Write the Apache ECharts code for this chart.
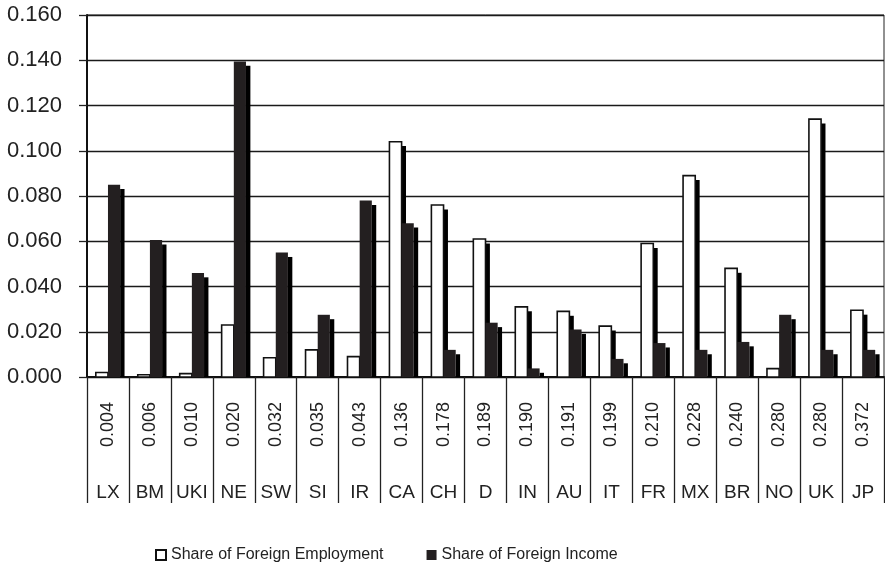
<!DOCTYPE html>
<html>
<head>
<meta charset="utf-8">
<script src="https://cdn.jsdelivr.net/npm/echarts@6/dist/echarts.min.js"></script>
<style>
  html, body { margin: 0; padding: 0; background: #fff; }
  #chart { width: 885px; height: 567px; }
</style>
</head>
<body>
<div id="chart"></div>
<script>
// Country codes (lower label row)
const countries = ['LX','BM','UKI','NE','SW','SI','IR','CA','CH','D','IN','AU','IT','FR','MX','BR','NO','UK','JP'];
// Ratio shown above each country code (rotated label row)
const ratios = ['0.004','0.006','0.010','0.020','0.032','0.035','0.043','0.136','0.178','0.189','0.190','0.191','0.199','0.210','0.228','0.240','0.280','0.280','0.372'];
// Share of Foreign Employment
const employment = [0.002,0.001,0.0015,0.023,0.0085,0.012,0.009,0.104,0.076,0.061,0.031,0.029,0.0225,0.059,0.089,0.048,0.0037,0.114,0.0295];
// Share of Foreign Income
const income = [0.085,0.0605,0.046,0.1395,0.055,0.0275,0.078,0.068,0.012,0.024,0.0038,0.021,0.008,0.015,0.012,0.0155,0.0275,0.012,0.012];
// Y axis range
const yMin = 0, yMax = 0.16, yStep = 0.02;

const FONT = "'Liberation Sans', Arial, sans-serif";

// Bar with a flat offset shadow on its right side (pseudo-3D look)
function makeRenderer(side) {
  return function (params, api) {
    const i = api.value(0);
    const v = api.value(1);
    const top = api.coord([i, v]);
    const base = api.coord([i, 0]);
    const cw = api.size([1, 0])[0];
    const bw = cw * 0.29;
    const depth = cw * 0.105;
    const x0 = side === 0 ? top[0] - bw : top[0];
    const h = base[1] - top[1];
    const children = [];
    if (h > depth) {
      children.push({
        type: 'rect',
        shape: { x: x0 + bw, y: top[1] + depth, width: depth, height: h - depth },
        style: { fill: '#000' }
      });
    }
    children.push({
      type: 'rect',
      shape: { x: x0, y: top[1], width: bw, height: h },
      style: side === 0
        ? { fill: '#fff', stroke: '#111', lineWidth: 1.6 }
        : { fill: '#231f20' }
    });
    return { type: 'group', children: children };
  };
}

const chart = echarts.init(document.getElementById('chart'), null, { renderer: 'canvas' });
chart.setOption({
  animation: false,
  backgroundColor: '#fff',
  textStyle: { fontFamily: FONT },
  grid: {
    left: 87, right: 1, top: 15, bottom: 190,
    show: true, borderColor: '#222', borderWidth: 1, backgroundColor: 'transparent'
  },
  legend: {
    left: 150, top: 542,
    itemWidth: 10, itemHeight: 10, itemGap: 43,
    textStyle: { fontFamily: FONT, fontSize: 16, color: '#222' },
    data: [
      { name: 'Share of Foreign Employment', icon: 'rect',
        itemStyle: { color: '#fff', borderColor: '#111', borderWidth: 2 } },
      { name: 'Share of Foreign Income', icon: 'rect',
        itemStyle: { color: '#231f20', borderWidth: 0 } }
    ]
  },
  xAxis: [
    {
      type: 'category',
      data: ratios,
      position: 'bottom',
      axisLine: { show: true, lineStyle: { color: '#111', width: 2 } },
      axisTick: { show: true, length: 126, lineStyle: { color: '#222', width: 1.3 } },
      axisLabel: {
        rotate: 90, margin: 25, interval: 0,
        fontFamily: FONT, fontSize: 18, color: '#222'
      }
    },
    {
      type: 'category',
      data: countries,
      position: 'bottom',
      axisLine: { show: false },
      axisTick: { show: false },
      axisLabel: {
        margin: 106, interval: 0,
        fontFamily: FONT, fontSize: 19, color: '#222'
      }
    }
  ],
  yAxis: {
    type: 'value',
    min: yMin, max: yMax, interval: yStep,
    axisLine: { show: true, lineStyle: { color: '#111', width: 2 } },
    axisTick: { show: true, length: 8, lineStyle: { color: '#222', width: 1.3 } },
    splitLine: { show: true, lineStyle: { color: '#1a1a1a', width: 1.3 } },
    axisLabel: {
      margin: 25, fontFamily: FONT, fontSize: 22, color: '#222',
      formatter: function (v) { return v.toFixed(3); }
    }
  },
  series: [
    {
      name: 'Share of Foreign Employment',
      type: 'custom',
      xAxisIndex: 0,
      renderItem: makeRenderer(0),
      itemStyle: { color: '#fff', borderColor: '#111' },
      encode: { x: 0, y: 1 },
      data: employment.map(function (v, i) { return [i, v]; }),
      z: 2
    },
    {
      name: 'Share of Foreign Income',
      type: 'custom',
      xAxisIndex: 0,
      renderItem: makeRenderer(1),
      itemStyle: { color: '#231f20' },
      encode: { x: 0, y: 1 },
      data: income.map(function (v, i) { return [i, v]; }),
      z: 3
    }
  ]
});
</script>
</body>
</html>
